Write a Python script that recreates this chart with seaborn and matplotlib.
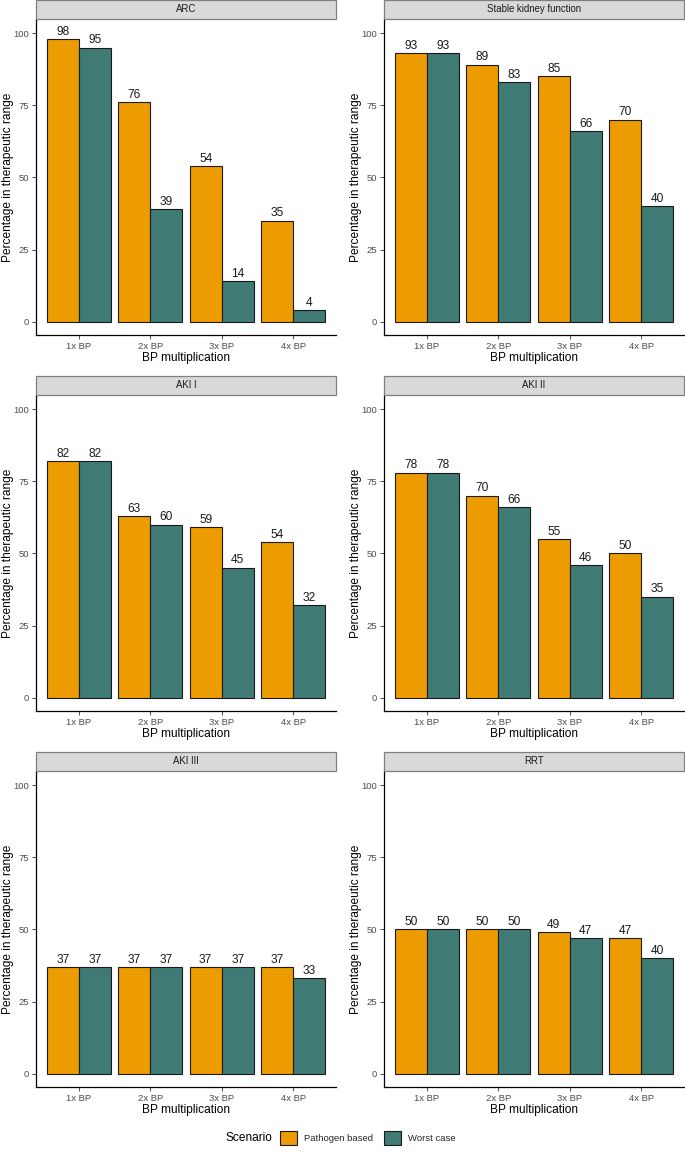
import numpy as np
import pandas as pd
import matplotlib
matplotlib.use("Agg")
import matplotlib.pyplot as plt
from matplotlib.patches import Rectangle, Patch
import seaborn as sns

sns.set_theme(style="white")
plt.rcParams['font.family'] = ['Liberation Sans', 'DejaVu Sans']

panels = ["ARC", "Stable kidney function", "AKI I", "AKI II", "AKI III", "RRT"]
bp_levels = ["1x BP", "2x BP", "3x BP", "4x BP"]
scenarios = ["Pathogen based", "Worst case"]
pathogen = {
    "ARC": [98, 76, 54, 35],
    "Stable kidney function": [93, 89, 85, 70],
    "AKI I": [82, 63, 59, 54],
    "AKI II": [78, 70, 55, 50],
    "AKI III": [37, 37, 37, 37],
    "RRT": [50, 50, 49, 47],
}
worst = {
    "ARC": [95, 39, 14, 4],
    "Stable kidney function": [93, 83, 66, 40],
    "AKI I": [82, 60, 45, 32],
    "AKI II": [78, 66, 46, 35],
    "AKI III": [37, 37, 37, 33],
    "RRT": [50, 50, 47, 40],
}
colors = ["#EC9C00", "#3F7B74"]

rows = []
for p in panels:
    for i, b in enumerate(bp_levels):
        rows.append((p, b, scenarios[0], pathogen[p][i]))
        rows.append((p, b, scenarios[1], worst[p][i]))
df = pd.DataFrame(rows, columns=["panel", "bp", "scenario", "value"])

W, H = 685, 1154
fig = plt.figure(figsize=(W / 100, H / 100), dpi=100)

col_x = [36, 384]
ax_w = 300
row_top = [19, 395, 771]
ax_h = 316
strip_h = 19

for k, p in enumerate(panels):
    r, c = divmod(k, 2)
    left = col_x[c] / W
    bottom = 1 - (row_top[r] + ax_h) / H
    ax = fig.add_axes([left, bottom, ax_w / W, ax_h / H])
    sub = df[df.panel == p]
    sns.barplot(data=sub, x="bp", y="value", hue="scenario", order=bp_levels,
                hue_order=scenarios, palette=colors, width=0.9, ax=ax,
                edgecolor="#1a1a1a", linewidth=0.8, saturation=1, errorbar=None)
    for cont in ax.containers:
        ax.bar_label(cont, fmt="%d", padding=1, fontsize=8.6, color="#1a1a1a")
    if ax.get_legend():
        ax.get_legend().remove()
    ax.set_xlim(-0.6, 3.6)
    ax.set_ylim(-4.6, 104.9)
    ax.set_yticks([0, 25, 50, 75, 100])
    ax.set_xlabel("BP multiplication", fontsize=8.6, color="black")
    ax.set_ylabel("Percentage in therapeutic range", fontsize=8.6, color="black")
    ax.xaxis.set_label_coords(0.5, -(357 - 334) / ax_h)
    ax.xaxis.label.set_va("center")
    ax.yaxis.set_label_coords(-(col_x[c] - (c * 348 + 8)) / ax_w, 0.5)
    ax.yaxis.label.set_va("center")
    ax.tick_params(axis="both", which="both", length=3, width=0.6, color="#333333",
                   labelsize=6.8, labelcolor="#4D4D4D", pad=2, bottom=True, left=True)
    for s in ["top", "right"]:
        ax.spines[s].set_visible(False)
    for s in ["left", "bottom"]:
        ax.spines[s].set_color("black")
        ax.spines[s].set_linewidth(0.9)
    # strip
    sb = 1 - row_top[r] / H
    fig.patches.append(Rectangle((left, sb), ax_w / W, strip_h / H, transform=fig.transFigure,
                                 facecolor="#D9D9D9", edgecolor="#7F7F7F", linewidth=0.9))
    fig.text(left + ax_w / W / 2, sb + strip_h / H / 2, p, ha="center", va="center",
             fontsize=6.9, color="#1a1a1a")

# legend
fig.text(249 / W, 1 - 1138 / H, "Scenario", ha="center", va="center", fontsize=8.6, color="black")
leg_handles = [Patch(facecolor=colors[i], edgecolor="#1a1a1a", linewidth=0.8) for i in range(2)]
fig.legend(leg_handles, scenarios, loc="center left", bbox_to_anchor=(280 / W, 1 - 1138 / H),
           ncol=2, frameon=False, fontsize=6.8, handlelength=1.8, handleheight=1.8,
           handletextpad=0.74, columnspacing=1.16, borderaxespad=0, borderpad=0)

fig.savefig("out.png", dpi=100, facecolor="white")
